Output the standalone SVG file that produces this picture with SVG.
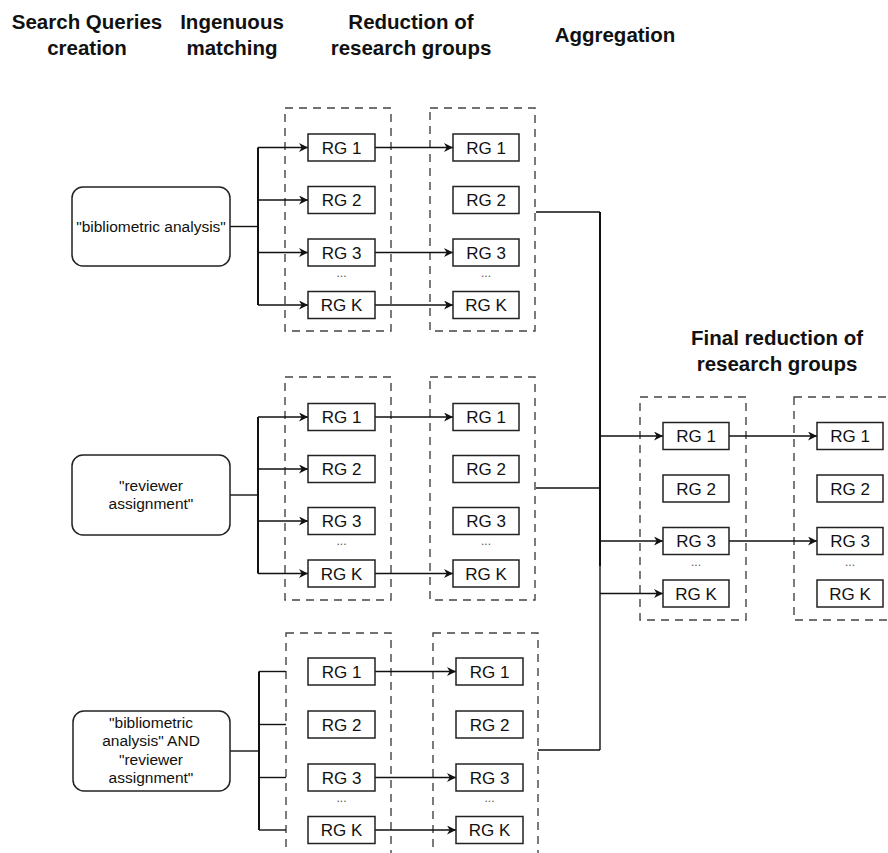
<svg xmlns="http://www.w3.org/2000/svg" width="888" height="853" viewBox="0 0 888 853">
<style>
.hdr{font-family:"Liberation Sans",Arial,sans-serif;font-weight:bold;font-size:20.5px;fill:#111;text-anchor:middle}
.rg{fill:#fff;stroke:#222;stroke-width:1.5}
.rgt{font-family:"Liberation Sans",Arial,sans-serif;font-size:17px;fill:#111;text-anchor:middle}
.q{fill:#fff;stroke:#222;stroke-width:1.5}
.qt{font-family:"Liberation Sans",Arial,sans-serif;font-size:15.5px;fill:#111;text-anchor:middle}
.dash{fill:none;stroke:#444;stroke-width:1.4;stroke-dasharray:8 6}
.dots{font-family:"Liberation Sans",Arial,sans-serif;font-size:12px;fill:#555;text-anchor:middle}
.ln{fill:none;stroke:#111;stroke-width:1.4}
.ar{fill:none;stroke:#111;stroke-width:1.4;marker-end:url(#arr)}
.bus{fill:none;stroke:#111;stroke-width:2}
</style>
<defs>
<marker id="arr" viewBox="0 0 10 10" refX="10" refY="5" markerWidth="10" markerHeight="9" markerUnits="userSpaceOnUse" orient="auto">
<path d="M0,0 L10,5 L0,10 L3,5 z" fill="#111"/>
</marker>
</defs>

<g id="headers">
<text class="hdr" x="87" y="29">Search Queries</text>
<text class="hdr" x="87" y="55">creation</text>
<text class="hdr" x="232" y="29">Ingenuous</text>
<text class="hdr" x="232" y="55">matching</text>
<text class="hdr" x="411" y="29">Reduction of</text>
<text class="hdr" x="411" y="55">research groups</text>
<text class="hdr" x="615" y="42">Aggregation</text>
<text class="hdr" x="777" y="345">Final reduction of</text>
<text class="hdr" x="777" y="371">research groups</text>
</g>

<g id="containers">
<rect id="c1a" class="dash" x="285" y="108" width="106" height="223"/>
<rect id="c1b" class="dash" x="430" y="108" width="105" height="223"/>
<rect id="c2a" class="dash" x="285" y="377" width="106" height="223"/>
<rect id="c2b" class="dash" x="430" y="377" width="105" height="223"/>
<rect id="c3a" class="dash" x="286" y="633" width="105" height="240"/>
<rect id="c3b" class="dash" x="433" y="633" width="105" height="240"/>
<rect id="cfa" class="dash" x="640" y="397" width="106" height="223"/>
<rect id="cfb" class="dash" x="794" y="397" width="110" height="223"/>
</g>

<g id="connectors">
<!-- group 1 -->
<path class="ln" d="M230,226.5 H258"/>
<path class="bus" d="M258,147.5 V305"/>
<path class="ar" d="M258,147.5 H308"/>
<path class="ar" d="M258,200 H308"/>
<path class="ar" d="M258,252.5 H308"/>
<path class="ar" d="M258,305 H308"/>
<path class="ar" d="M375,147.5 H453"/>
<path class="ar" d="M375,252.5 H453"/>
<path class="ar" d="M375,305 H453"/>
<path class="ln" d="M536,212 H600"/>
<!-- group 2 -->
<path class="ln" d="M230,495 H258"/>
<path class="bus" d="M258,417 V573.5"/>
<path class="ar" d="M258,417 H308"/>
<path class="ar" d="M258,469 H308"/>
<path class="ar" d="M258,521 H308"/>
<path class="ar" d="M258,573.5 H308"/>
<path class="ar" d="M375,417 H453"/>
<path class="ar" d="M375,573.5 H453"/>
<path class="ln" d="M536,488 H600"/>
<!-- group 3 -->
<path class="ln" d="M230,751 H259"/>
<path class="bus" d="M259,671.5 V830"/>
<path class="ln" d="M259,671.5 H286"/>
<path class="ln" d="M259,724.5 H286"/>
<path class="ln" d="M259,777.5 H286"/>
<path class="ln" d="M259,830 H286"/>
<path class="ar" d="M375,671.5 H456"/>
<path class="ar" d="M375,777.5 H456"/>
<path class="ar" d="M375,830 H456"/>
<path class="ln" d="M538,750 H600"/>
<!-- aggregation -->
<path class="bus" d="M600,212 V566"/>
<path class="ln" d="M600,566 V750"/>
<path class="ar" d="M600,436 H663"/>
<path class="ar" d="M600,541 H663"/>
<path class="ar" d="M600,593.5 H663"/>
<path class="ar" d="M729,436 H817"/>
<path class="ar" d="M729,541 H817"/>
</g>

<g id="q1"><rect class="q" x="72" y="187" width="158" height="79" rx="11"/><text class="qt" x="151" y="231.5">"bibliometric analysis"</text></g>
<g id="q2"><rect class="q" x="72" y="455" width="158" height="80" rx="11"/><text class="qt" x="151" y="491">"reviewer</text><text class="qt" x="151" y="509">assignment"</text></g>
<g id="q3"><rect class="q" x="73" y="711" width="157" height="80" rx="11"/><text class="qt" x="151" y="728">"bibliometric</text><text class="qt" x="151" y="746">analysis" AND</text><text class="qt" x="151" y="765">"reviewer</text><text class="qt" x="151" y="783">assignment"</text></g>

<!-- group 1 ingenuous -->
<g id="g1a1"><rect class="rg" x="308" y="134" width="67" height="27"/><text class="rgt" x="341.5" y="153.5">RG 1</text></g>
<g id="g1a2"><rect class="rg" x="308" y="186.5" width="67" height="27"/><text class="rgt" x="341.5" y="206">RG 2</text></g>
<g id="g1a3"><rect class="rg" x="308" y="239" width="67" height="27"/><text class="rgt" x="341.5" y="258.5">RG 3</text></g>
<g id="g1ak"><rect class="rg" x="308" y="291.5" width="67" height="27"/><text class="rgt" x="341.5" y="311">RG K</text></g>
<text class="dots" x="341.5" y="277">...</text>
<!-- group 1 reduction -->
<g id="g1b1"><rect class="rg" x="453" y="134" width="66" height="27"/><text class="rgt" x="486" y="153.5">RG 1</text></g>
<g id="g1b2"><rect class="rg" x="453" y="186.5" width="66" height="27"/><text class="rgt" x="486" y="206">RG 2</text></g>
<g id="g1b3"><rect class="rg" x="453" y="239" width="66" height="27"/><text class="rgt" x="486" y="258.5">RG 3</text></g>
<g id="g1bk"><rect class="rg" x="453" y="291.5" width="66" height="27"/><text class="rgt" x="486" y="311">RG K</text></g>
<text class="dots" x="486" y="277">...</text>

<!-- group 2 ingenuous -->
<g id="g2a1"><rect class="rg" x="308" y="403.5" width="67" height="27"/><text class="rgt" x="341.5" y="423">RG 1</text></g>
<g id="g2a2"><rect class="rg" x="308" y="455.5" width="67" height="27"/><text class="rgt" x="341.5" y="475">RG 2</text></g>
<g id="g2a3"><rect class="rg" x="308" y="507.5" width="67" height="27"/><text class="rgt" x="341.5" y="527">RG 3</text></g>
<g id="g2ak"><rect class="rg" x="308" y="560" width="67" height="27"/><text class="rgt" x="341.5" y="579.5">RG K</text></g>
<text class="dots" x="341.5" y="545">...</text>
<!-- group 2 reduction -->
<g id="g2b1"><rect class="rg" x="453" y="403.5" width="66" height="27"/><text class="rgt" x="486" y="423">RG 1</text></g>
<g id="g2b2"><rect class="rg" x="453" y="455.5" width="66" height="27"/><text class="rgt" x="486" y="475">RG 2</text></g>
<g id="g2b3"><rect class="rg" x="453" y="507.5" width="66" height="27"/><text class="rgt" x="486" y="527">RG 3</text></g>
<g id="g2bk"><rect class="rg" x="453" y="560" width="66" height="27"/><text class="rgt" x="486" y="579.5">RG K</text></g>
<text class="dots" x="486" y="545">...</text>

<!-- group 3 ingenuous -->
<g id="g3a1"><rect class="rg" x="308" y="658" width="67" height="27"/><text class="rgt" x="341.5" y="677.5">RG 1</text></g>
<g id="g3a2"><rect class="rg" x="308" y="711" width="67" height="27"/><text class="rgt" x="341.5" y="730.5">RG 2</text></g>
<g id="g3a3"><rect class="rg" x="308" y="764" width="67" height="27"/><text class="rgt" x="341.5" y="783.5">RG 3</text></g>
<g id="g3ak"><rect class="rg" x="308" y="816.5" width="67" height="27"/><text class="rgt" x="341.5" y="836">RG K</text></g>
<text class="dots" x="341.5" y="802">...</text>
<!-- group 3 reduction -->
<g id="g3b1"><rect class="rg" x="456" y="658" width="67" height="27"/><text class="rgt" x="489.5" y="677.5">RG 1</text></g>
<g id="g3b2"><rect class="rg" x="456" y="711" width="67" height="27"/><text class="rgt" x="489.5" y="730.5">RG 2</text></g>
<g id="g3b3"><rect class="rg" x="456" y="764" width="67" height="27"/><text class="rgt" x="489.5" y="783.5">RG 3</text></g>
<g id="g3bk"><rect class="rg" x="456" y="816.5" width="67" height="27"/><text class="rgt" x="489.5" y="836">RG K</text></g>
<text class="dots" x="489.5" y="802">...</text>

<!-- final a -->
<g id="fa1"><rect class="rg" x="663" y="422.5" width="66" height="27"/><text class="rgt" x="696" y="442">RG 1</text></g>
<g id="fa2"><rect class="rg" x="663" y="475" width="66" height="27"/><text class="rgt" x="696" y="494.5">RG 2</text></g>
<g id="fa3"><rect class="rg" x="663" y="527.5" width="66" height="27"/><text class="rgt" x="696" y="547">RG 3</text></g>
<g id="fak"><rect class="rg" x="663" y="580" width="66" height="27"/><text class="rgt" x="696" y="599.5">RG K</text></g>
<text class="dots" x="696" y="566">...</text>
<!-- final b -->
<g id="fb1"><rect class="rg" x="817" y="422.5" width="66" height="27"/><text class="rgt" x="850" y="442">RG 1</text></g>
<g id="fb2"><rect class="rg" x="817" y="475" width="66" height="27"/><text class="rgt" x="850" y="494.5">RG 2</text></g>
<g id="fb3"><rect class="rg" x="817" y="527.5" width="66" height="27"/><text class="rgt" x="850" y="547">RG 3</text></g>
<g id="fbk"><rect class="rg" x="817" y="580" width="66" height="27"/><text class="rgt" x="850" y="599.5">RG K</text></g>
<text class="dots" x="850" y="566">...</text>
</svg>
